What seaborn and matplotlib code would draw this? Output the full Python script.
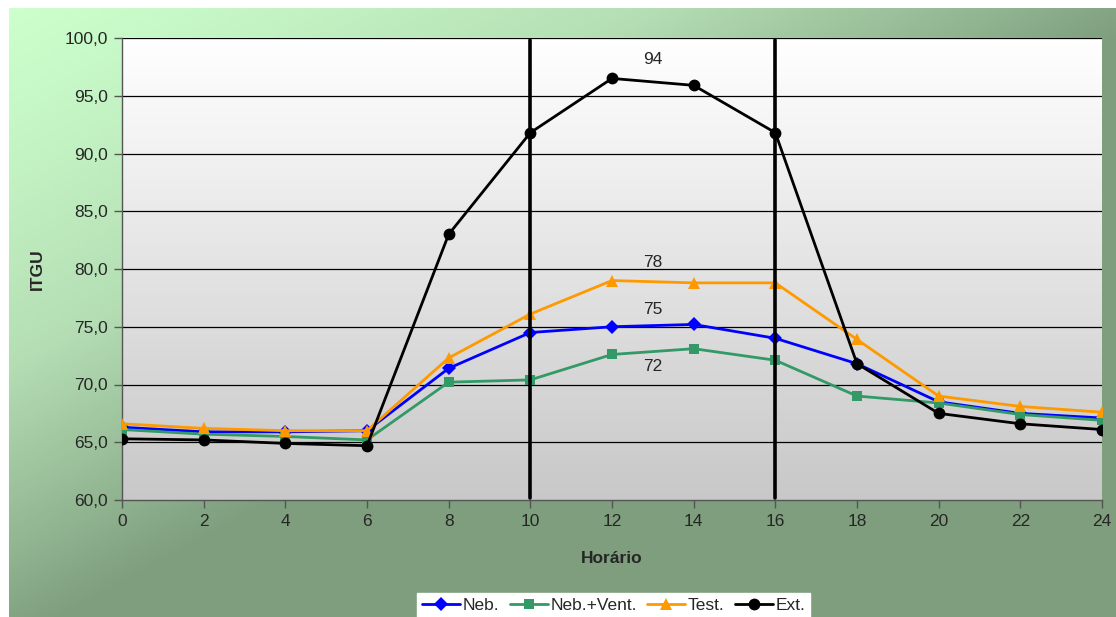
import numpy as np
import matplotlib
matplotlib.use("Agg")
import matplotlib.pyplot as plt
from matplotlib.colors import LinearSegmentedColormap
import seaborn as sns

# data
hours = [0, 2, 4, 6, 8, 10, 12, 14, 16, 18, 20, 22, 24]
neb = [66.3, 65.9, 65.9, 66.0, 71.4, 74.5, 75.0, 75.2, 74.0, 71.8, 68.5, 67.5, 67.1]
neb_vent = [66.1, 65.7, 65.5, 65.2, 70.2, 70.4, 72.6, 73.1, 72.1, 69.0, 68.4, 67.4, 66.9]
test = [66.6, 66.2, 66.0, 66.0, 72.3, 76.1, 79.0, 78.8, 78.8, 73.9, 69.0, 68.1, 67.6]
ext = [65.3, 65.2, 64.9, 64.7, 83.0, 91.8, 96.5, 95.9, 91.8, 71.8, 67.5, 66.6, 66.1]
series_names = ["Neb.", "Neb.+Vent.", "Test.", "Ext."]
notes = ["94", "78", "75", "72"]
note_y = [98.1, 80.6, 76.5, 71.6]
note_x = 13
vlines = [10, 16]

series = [neb, neb_vent, test, ext]
colors = ["#0000FF", "#339966", "#FF9900", "#000000"]
markers = ["D", "s", "^", "o"]
msize = [7.5, 7.5, 9, 8.5]

sns.set_style("white")
plt.rcParams["font.family"] = ["Liberation Sans", "DejaVu Sans"]
FS = 12.5

fig = plt.figure(figsize=(11.16, 6.17), dpi=100)
fig.patch.set_facecolor("white")

# green diagonal gradient behind the chart
bg = fig.add_axes([9 / 1116, 0, 1 - 9 / 1116, 609 / 617], zorder=-5)
u = np.linspace(0, 1, 300)[None, :]
v = np.linspace(0, 1, 200)[:, None]
t = np.clip((u + v) * 0.95, 0, 1) ** 1.2
green = LinearSegmentedColormap.from_list("g", ["#CCFFCC", "#B4DDB4", "#7E9E7E"])
bg.imshow(t, cmap=green, aspect="auto", extent=[0, 1, 0, 1], origin="upper")
bg.axis("off")

ax = fig.add_axes([122 / 1116, 117 / 617, 980 / 1116, 462 / 617])
ax.set_facecolor("none")

# plot area: white (top) to grey (bottom)
grey = LinearSegmentedColormap.from_list("p", ["#FFFFFF", "#C8C8C8"])
ax.imshow(np.linspace(0, 1, 100)[:, None], cmap=grey, aspect="auto",
          extent=[0, 24, 60, 100], origin="upper", zorder=0)

for y in range(65, 101, 5):
    ax.axhline(y, color="black", lw=0.9, zorder=1)

for name, vals, c, m, ms in zip(series_names, series, colors, markers, msize):
    sns.lineplot(x=hours, y=vals, color=c, marker=m, markersize=ms,
                 markeredgewidth=0, lw=2, label=name, ax=ax, zorder=3)

for xv in vlines:
    ax.plot([xv, xv], [60.2, 99.8], color="black", lw=2.6, zorder=4)

for txt, yv in zip(notes, note_y):
    ax.text(note_x, yv, txt, ha="center", va="center", fontsize=FS, zorder=5)

ax.set_xlim(0, 24)
ax.set_ylim(60, 100)
ax.set_xticks(range(0, 25, 2))
ax.set_yticks(range(60, 101, 5))
ax.set_yticklabels([f"{y:.1f}".replace(".", ",") for y in range(60, 101, 5)])
ax.tick_params(axis="both", direction="out", length=6, width=1, color="#555555",
               labelsize=FS, pad=4, left=True, bottom=True)
for side in ["top", "right"]:
    ax.spines[side].set_visible(False)
for side in ["left", "bottom"]:
    ax.spines[side].set_color("#555555")
    ax.spines[side].set_linewidth(1)
ax.set_xlabel("Horário", fontsize=FS, fontweight="bold", labelpad=16)
ax.set_ylabel("ITGU", fontsize=FS, fontweight="bold", labelpad=14)

handles, labels = ax.get_legend_handles_labels()
ax.get_legend().remove()
leg = fig.legend(handles, labels, loc="lower center", bbox_to_anchor=(0.550, -0.014),
                 ncol=4, fontsize=FS, frameon=True, fancybox=False,
                 edgecolor="white", facecolor="white", framealpha=1,
                 handlelength=2.2, handletextpad=0.15, columnspacing=0.6,
                 borderpad=0.25)

fig.savefig("out.png", dpi=100)
